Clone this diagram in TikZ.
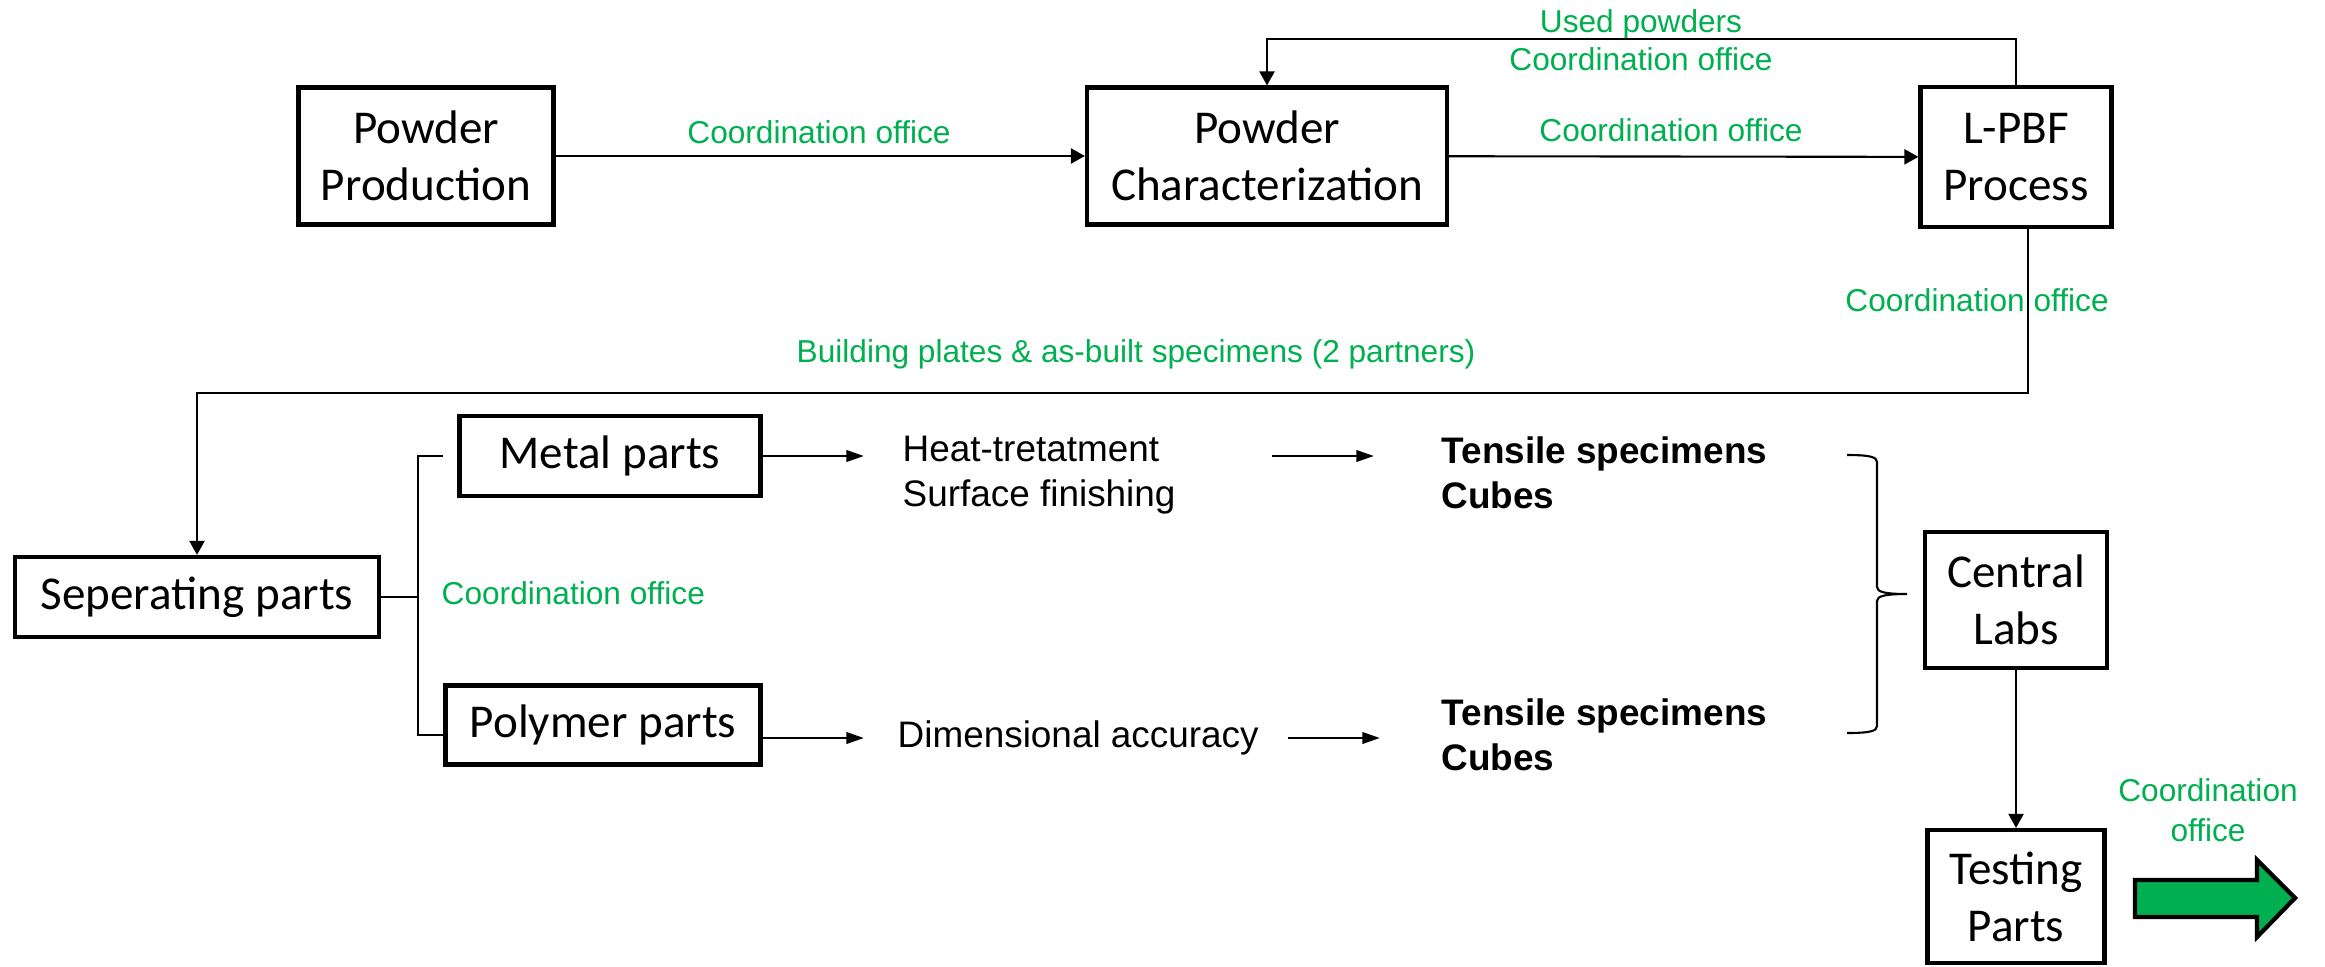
\documentclass[tikz,border=0pt]{standalone}
\usepackage{fontspec}
\setmainfont{Liberation Sans}
\newfontfamily\calibri{Carlito}
\usepackage{tikz}
\usetikzlibrary{arrows.meta,positioning}
\definecolor{officegreen}{RGB}{0,176,80}

\begin{document}
\begin{tikzpicture}[
    box/.style={rectangle, draw, line width=1.2pt, inner sep=0pt, align=center, font=\calibri\fontsize{13.4}{16.2}\selectfont},
    lab/.style={font=\fontsize{9}{10.8}\selectfont, text=officegreen, inner sep=0pt, align=center},
    txt/.style={font=\fontsize{10.5}{13}\selectfont, inner sep=0pt, align=left, anchor=west},
    boldtxt/.style={txt, font=\bfseries\fontsize{10.5}{12.8}\selectfont},
    arrow/.style={-{Triangle[length=4pt, width=4.3pt]}, line width=0.6pt},
    thinarrow/.style={-{Triangle[length=5pt, width=3.2pt]}, line width=0.8pt},
    link/.style={line width=0.6pt}
]
    \useasboundingbox (0,0) rectangle (23.25,9.66);

    % Top row
    \node[box, minimum width=2.55cm, minimum height=1.37cm] (prod) at (4.26,8.10) {Powder\\Production};
    \node[box, minimum width=3.60cm, minimum height=1.37cm] (char) at (12.67,8.10) {Powder\\Characterization};
    \node[box, minimum width=1.91cm, minimum height=1.40cm] (lpbf) at (20.16,8.09) {L-PBF\\Process};

    \node[lab] (labprod) at (8.19,8.34) {Coordination office};
    \node[lab] (labchar) at (16.71,8.36) {Coordination office};
    \node[lab] (labused) at (16.41,9.26) {Used powders\\Coordination office};
    \node[lab] (lablpbf) at (19.77,6.66) {Coordination office};
    \node[lab] (labplates) at (11.36,6.12) {Building plates \& as-built specimens (2 partners)};

    % Parts
    \node[box, minimum width=3.64cm, minimum height=0.80cm] (sep) at (1.97,3.69) {Seperating parts};
    \node[box, minimum width=3.01cm, minimum height=0.80cm] (metal) at (6.10,5.10) {Metal parts};
    \node[box, minimum width=3.15cm, minimum height=0.79cm] (poly) at (6.03,2.41) {Polymer parts};
    \node[lab, anchor=west] (labsep) at (4.41,3.73) {Coordination office};

    \node[txt] (heat) at (9.02,4.91) {Heat-tretatment\\Surface finishing};
    \node[boldtxt] (tens1) at (14.41,4.93) {Tensile specimens\\Cubes};
    \node[txt] (dim) at (8.97,2.28) {Dimensional accuracy};
    \node[boldtxt] (tens2) at (14.41,2.31) {Tensile specimens\\Cubes};

    % Labs and testing
    \node[box, minimum width=1.82cm, minimum height=1.36cm] (central) at (20.16,3.66) {Central\\Labs};
    \node[box, minimum width=1.77cm, minimum height=1.33cm] (test) at (20.16,0.695) {Testing\\Parts};
    \node[lab, font=\fontsize{9}{11.4}\selectfont] (labtest) at (22.08,1.56) {Coordination\\office};

    % Arrows
    \draw[arrow] (prod) -- (char);
    \draw[arrow] (char) -- (lpbf);
    \draw[arrow] (lpbf.north) -- ++(0,0.46) -| (char.north);
    \draw[arrow] ([xshift=1.2mm]lpbf.south) -- ++(0,-1.64) -| (sep.north);

    \draw[link] (sep.east) -- ++(0.37,0) coordinate (fork);
    \draw[link] (fork) |- ([xshift=-1.4mm]metal.west);
    \draw[link] (fork) |- ([yshift=-1mm]poly.west);

    \draw[thinarrow, shorten >=3.8mm] (metal.east) -- (heat.west |- metal.east);
    \draw[thinarrow, shorten <=9.6mm, shorten >=6.7mm] (heat.east |- metal.east) -- (tens1.west |- metal.east);
    \draw[thinarrow, shorten >=3.3mm] (poly.east |- dim.west) -- (dim.west);
    \draw[thinarrow, shorten <=2.9mm, shorten >=6.1mm] (dim.east) -- (tens2.west |- dim.east);

    % Brace to central labs
    \draw[link] (18.47,5.11) .. controls (18.70,5.11) and (18.77,5.09) .. (18.77,5.04)
        -- (18.77,3.79) .. controls (18.77,3.74) and (18.85,3.72) .. (19.07,3.72)
        .. controls (18.85,3.72) and (18.77,3.70) .. (18.77,3.65)
        -- (18.77,2.40) .. controls (18.77,2.35) and (18.70,2.33) .. (18.47,2.33);

    \draw[arrow] (central) -- (test);

    % Outgoing arrow
    \draw[line width=1.2pt, fill=officegreen] (21.35,0.86) -- (22.57,0.86) -- (22.57,1.06) -- (22.95,0.68)
        -- (22.57,0.29) -- (22.57,0.49) -- (21.35,0.49) -- cycle;
\end{tikzpicture}
\end{document}
